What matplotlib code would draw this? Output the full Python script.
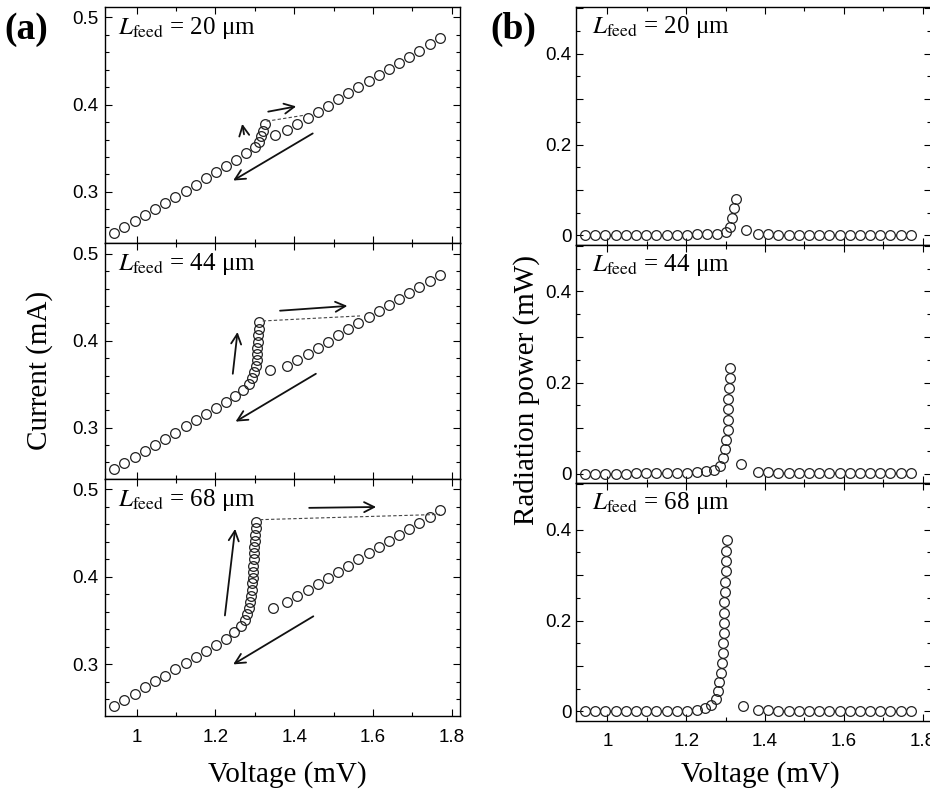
import matplotlib
matplotlib.use("Agg")
import matplotlib.pyplot as plt
from matplotlib.ticker import MultipleLocator, FuncFormatter

plt.rcParams["mathtext.fontset"] = "stix"
plt.rcParams["font.family"] = ["Liberation Sans", "DejaVu Sans"]

# shared low-voltage branch (before the jump)
v_low = [0.943, 0.969, 0.995, 1.021, 1.047, 1.072, 1.098, 1.124, 1.150, 1.176, 1.201, 1.227]
i_low = [0.2525, 0.2595, 0.2665, 0.2736, 0.2806, 0.2873, 0.2944, 0.3014, 0.3084, 0.3154, 0.3222, 0.3292]
p_low = [0.000, 0.000, 0.000, 0.000, 0.000, 0.001, 0.001, 0.001, 0.001, 0.002, 0.002, 0.003]

# shared high-voltage branch (after the jump)
v_ret = [1.382, 1.408, 1.434, 1.460, 1.486, 1.511, 1.537, 1.563, 1.589, 1.615, 1.640, 1.666, 1.692, 1.718, 1.744, 1.770]
i_ret = [0.371, 0.378, 0.385, 0.392, 0.399, 0.406, 0.413, 0.420, 0.427, 0.434, 0.441, 0.448, 0.455, 0.462, 0.469, 0.476]
p_ret = [0.004, 0.003, 0.002, 0.002, 0.002, 0.001, 0.001, 0.001, 0.001, 0.001, 0.001, 0.001, 0.001, 0.001, 0.001, 0.001]

# points around the jump, per feed length
feeds = ["20", "44", "68"]
v_jump = [
    [1.253, 1.278, 1.300, 1.311, 1.316, 1.321, 1.326, 1.351],
    [1.250, 1.271, 1.286, 1.292, 1.298, 1.302, 1.305, 1.305, 1.306, 1.307, 1.308, 1.310, 1.311, 1.338],
    [1.248, 1.264, 1.275, 1.281, 1.284, 1.288, 1.290, 1.292, 1.294, 1.295, 1.295, 1.296, 1.297,
     1.298, 1.299, 1.300, 1.300, 1.302, 1.303, 1.345],
]
i_jump = [
    [0.336, 0.344, 0.351, 0.357, 0.364, 0.370, 0.378, 0.365],
    [0.336, 0.343, 0.350, 0.357, 0.364, 0.371, 0.378, 0.385, 0.392, 0.399, 0.406, 0.414, 0.421, 0.366],
    [0.337, 0.344, 0.351, 0.358, 0.364, 0.371, 0.378, 0.385, 0.393, 0.399, 0.406, 0.413, 0.420,
     0.427, 0.434, 0.441, 0.448, 0.456, 0.463, 0.365],
]
p_jump = [
    [0.003, 0.004, 0.007, 0.018, 0.039, 0.061, 0.081, 0.011],
    [0.006, 0.009, 0.018, 0.035, 0.055, 0.075, 0.097, 0.119, 0.143, 0.165, 0.188, 0.211, 0.233, 0.022],
    [0.008, 0.015, 0.028, 0.046, 0.065, 0.085, 0.106, 0.129, 0.151, 0.173, 0.195, 0.217, 0.240,
     0.262, 0.285, 0.308, 0.330, 0.354, 0.377, 0.013],
]

# dashed switching lines and sweep arrows (tail -> head) in data coords
dashes = [
    ((1.330, 0.381), (1.423, 0.3877)),
    ((1.320, 0.4227), (1.567, 0.4285)),
    ((1.313, 0.4655), (1.770, 0.4715)),
]
arrows = [
    [((1.334, 0.392), (1.405, 0.398)), ((1.2725, 0.366), (1.268, 0.378)), ((1.447, 0.367), (1.245, 0.313))],
    [((1.364, 0.4345), (1.535, 0.440)), ((1.244, 0.362), (1.256, 0.410)), ((1.455, 0.362), (1.251, 0.307))],
    [((1.438, 0.479), (1.608, 0.480)), ((1.224, 0.356), (1.250, 0.455)), ((1.4485, 0.355), (1.245, 0.300))],
]

W, H = 930, 794
fig = plt.figure(figsize=(W / 100, H / 100), dpi=100)

a_rows = [(7, 243.3), (243.3, 479), (479, 716)]
b_rows = [(7.3, 245), (245, 483.3), (483.3, 721)]

serif = ["Liberation Serif", "DejaVu Serif"]
mk = dict(ls="none", marker="o", ms=7, mfc="none", mec="#222222", mew=0.9)


def style(ax, last):
    ax.tick_params(which="both", direction="in", top=True, right=True,
                   labelsize=13.5, width=0.8)
    ax.tick_params(which="major", length=5)
    ax.tick_params(which="minor", length=3)
    ax.tick_params(axis="x", pad=9)
    ax.set_xlim(0.9195, 1.821)
    ax.xaxis.set_major_locator(MultipleLocator(0.2))
    ax.xaxis.set_minor_locator(MultipleLocator(0.1))
    ax.xaxis.set_major_formatter(FuncFormatter(lambda v, p: f"{v:g}"))
    if not last:
        ax.tick_params(axis="x", labelbottom=False)
    for s in ax.spines.values():
        s.set_linewidth(1.0)


for k in range(3):
    v = v_low + v_jump[k] + v_ret
    cur = i_low + i_jump[k] + i_ret
    pw = p_low + p_jump[k] + p_ret
    label = r"$L_{\mathrm{feed}}$ = " + feeds[k] + " μm"

    t, b = a_rows[k]
    ax = fig.add_axes([105 / W, 1 - b / H, 355 / W, (b - t) / H])
    ax.plot(v, cur, **mk)
    (x0, y0), (x1, y1) = dashes[k]
    ax.plot([x0, x1], [y0, y1], ls=(0, (3, 2)), lw=0.8, color="#444444")
    for tail, head in arrows[k]:
        ax.annotate("", xy=head, xytext=tail,
                    arrowprops=dict(arrowstyle="->", lw=1.3, color="#111111",
                                    mutation_scale=18, shrinkA=0, shrinkB=0))
    ax.set_ylim(0.241, 0.512)
    ax.yaxis.set_major_locator(MultipleLocator(0.1))
    ax.yaxis.set_minor_locator(MultipleLocator(0.02))
    ax.yaxis.set_major_formatter(FuncFormatter(lambda y, p: f"{y:.1f}"))
    style(ax, k == 2)
    ax.tick_params(axis="y", pad=5)
    ax.text(0.037, 0.885, label, transform=ax.transAxes, fontsize=18,
            family=serif, va="baseline")

    t, b = b_rows[k]
    bx = fig.add_axes([575.7 / W, 1 - b / H, 355.3 / W, (b - t) / H])
    bx.plot(v, pw, **mk)
    bx.set_ylim(-0.021, 0.502)
    bx.yaxis.set_major_locator(MultipleLocator(0.1))
    bx.yaxis.set_minor_locator(MultipleLocator(0.05))
    bx.yaxis.set_major_formatter(
        FuncFormatter(lambda y, p: "" if round(y * 10) % 2 else f"{y:g}"))
    style(bx, k == 2)
    bx.tick_params(axis="y", pad=3)
    bx.text(0.045, 0.89, label, transform=bx.transAxes, fontsize=18,
            family=serif, va="baseline")

fig.text(0.005, 0.985, "(a)", fontsize=27, weight="bold", family=serif, va="top")
fig.text(0.527, 0.985, "(b)", fontsize=27, weight="bold", family=serif, va="top")
fig.text(40 / W, 1 - 370 / H, "Current (mA)", rotation=90, fontsize=21,
         family=serif, ha="center", va="center")
fig.text(527 / W, 1 - 390 / H, "Radiation power (mW)", rotation=90, fontsize=21,
         family=serif, ha="center", va="center")
fig.text(287 / W, 1 - 775 / H, "Voltage (mV)", fontsize=21, family=serif,
         ha="center", va="center")
fig.text(760 / W, 1 - 775 / H, "Voltage (mV)", fontsize=21, family=serif,
         ha="center", va="center")

fig.savefig("out.png", dpi=100)
